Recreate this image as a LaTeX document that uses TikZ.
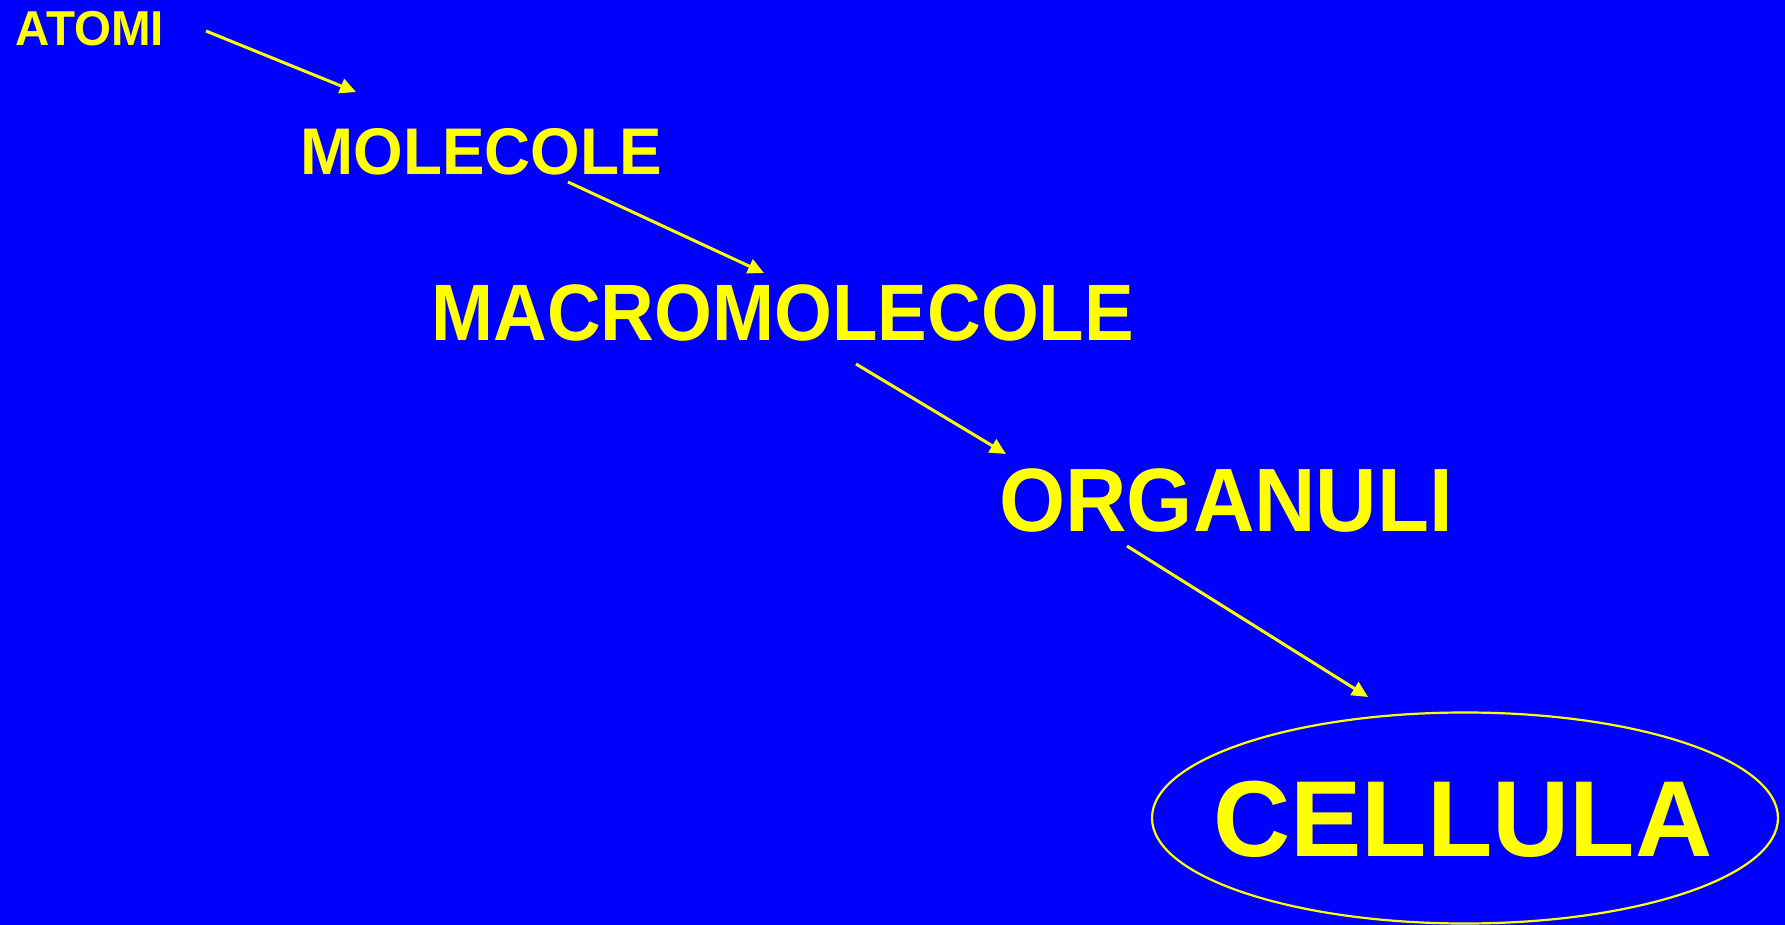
\documentclass[tikz,border=0pt]{standalone}
\usepackage{fontspec}
\setmainfont{Liberation Sans}
\usetikzlibrary{arrows.meta,shapes.geometric}
\definecolor{bgblue}{HTML}{0000FF}
\definecolor{lblyellow}{HTML}{FFFF00}
\begin{document}
\begin{tikzpicture}[x=0.5pt,y=-0.5pt,
  level/.style={text=lblyellow,font=\bfseries,inner sep=0pt,anchor=base west},
  stepline/.style={draw=lblyellow,line width=1.5pt,-{Triangle[length=8pt,width=7.5pt]}}]
  % slide background
  \fill[bgblue] (0,0) rectangle (1785,925);
  \useasboundingbox (0,0) rectangle (1785,925);

  % hierarchy levels
  \node[level,xscale=0.97,font=\bfseries\fontsize{24.5}{28}\selectfont] (atomi) at (15,46) {ATOMI};
  \node[level,xscale=0.966,font=\bfseries\fontsize{33}{38}\selectfont] (molecole) at (300,175) {MOLECOLE};
  \node[level,xscale=0.93,font=\bfseries\fontsize{40}{48}\selectfont] (macro) at (431,341) {MACROMOLECOLE};
  \node[level,xscale=0.945,font=\bfseries\fontsize{45}{54}\selectfont] (organuli) at (999,531) {ORGANULI};
  \node[level,xscale=0.99,font=\bfseries\fontsize{54}{64}\selectfont] (cellula) at (1213,856) {CELLULA};

  % outline round the cell
  \node[draw=lblyellow,line width=1.1pt,ellipse,inner sep=0pt,
        minimum width=313pt,minimum height=105.5pt] (ring) at (1465,818) {};

  % arrow end points
  \coordinate (a1s) at (206,31);   \coordinate (a1e) at (356,92);
  \coordinate (a2s) at (568,182);  \coordinate (a2e) at (764,273);
  \coordinate (a3s) at (856,364);  \coordinate (a3e) at (1006,454);
  \coordinate (a4s) at (1127,546); \coordinate (a4e) at (1368,697);

  \draw[stepline] (a1s) -- (a1e);
  \draw[stepline] (a2s) -- (a2e);
  \draw[stepline] (a3s) -- (a3e);
  \draw[stepline] (a4s) -- (a4e);
\end{tikzpicture}
\end{document}
